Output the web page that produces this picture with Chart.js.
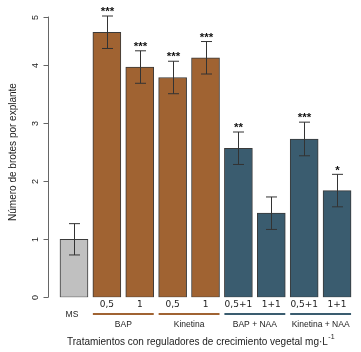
<!DOCTYPE html>
<html>
<head>
<meta charset="utf-8">
<script src="https://cdn.jsdelivr.net/npm/chart.js@4/dist/chart.umd.min.js"></script>
<style>
  html, body { margin: 0; padding: 0; background: #fff; }
  #wrap { width: 361px; height: 352px; position: relative; }
</style>
</head>
<body>
<div id="wrap"><canvas id="myChart" width="361" height="352"></canvas></div>
<script>
const treatments = ['MS', '0,5', '1', '0,5', '1', '0,5+1', '1+1', '0,5+1', '1+1'];
const groupOf = [null, 'BAP', 'BAP', 'Kinetina', 'Kinetina', 'BAP + NAA', 'BAP + NAA', 'Kinetina + NAA', 'Kinetina + NAA'];
const groups = ['BAP', 'Kinetina', 'BAP + NAA', 'Kinetina + NAA'];
const means = [1.0, 4.57, 3.97, 3.79, 4.13, 2.57, 1.45, 2.73, 1.84];
const errors = [0.27, 0.28, 0.28, 0.28, 0.28, 0.28, 0.28, 0.29, 0.28];
const stars = ['', '***', '***', '***', '***', '**', '', '***', '*'];
const yTickValues = [0, 1, 2, 3, 4, 4.84];
const yTickLabels = ['0', '1', '2', '3', '4', '5'];

const gray = '#c0c0c0';
const brown = '#a06332';
const teal = '#3a5c6f';

function colorFor(i) {
    if (groupOf[i] === null) return gray;
    return groupOf[i].includes('NAA') ? teal : brown;
}

const points = means.map((v, i) => ({ x: i + 1, y: v }));

const decor = {
    id: 'decor',
    afterDraw(chart) {
        const ctx = chart.ctx;
        const xs = chart.scales.x;
        const ys = chart.scales.y;
        const half = 14;
        ctx.save();

        // error bars
        ctx.strokeStyle = '#333';
        ctx.lineWidth = 1;
        means.forEach((m, i) => {
            const px = Math.round(xs.getPixelForValue(i + 1)) + 0.5;
            const top = ys.getPixelForValue(m + errors[i]);
            const bot = ys.getPixelForValue(m - errors[i]);
            ctx.beginPath();
            ctx.moveTo(px, top); ctx.lineTo(px, bot);
            ctx.moveTo(px - 5.5, top); ctx.lineTo(px + 5.5, top);
            ctx.moveTo(px - 5.5, bot); ctx.lineTo(px + 5.5, bot);
            ctx.stroke();
            if (stars[i]) {
                ctx.fillStyle = '#111';
                ctx.font = 'bold 11.5px "Liberation Sans", Arial, sans-serif';
                ctx.textAlign = 'center';
                ctx.textBaseline = 'middle';
                ctx.fillText(stars[i], px, top - 4);
            }
        });

        // y axis
        const ax = 48.5;
        ctx.strokeStyle = '#666';
        ctx.beginPath();
        ctx.moveTo(ax, ys.getPixelForValue(yTickValues[0]));
        ctx.lineTo(ax, ys.getPixelForValue(yTickValues[yTickValues.length - 1]));
        ctx.stroke();
        ctx.fillStyle = '#222';
        ctx.font = '9px "Liberation Sans", Arial, sans-serif';
        yTickValues.forEach((v, k) => {
            const py = Math.round(ys.getPixelForValue(v)) + 0.5;
            ctx.beginPath();
            ctx.moveTo(ax, py); ctx.lineTo(ax - 5, py);
            ctx.stroke();
            ctx.save();
            ctx.translate(36, py);
            ctx.rotate(-Math.PI / 2);
            ctx.textAlign = 'center';
            ctx.textBaseline = 'middle';
            ctx.fillText(yTickLabels[k], 0, 0);
            ctx.restore();
        });
        ctx.save();
        ctx.translate(13, 152);
        ctx.rotate(-Math.PI / 2);
        ctx.font = '10px "Liberation Sans", Arial, sans-serif';
        ctx.textAlign = 'center';
        ctx.textBaseline = 'middle';
        ctx.fillText('Número de brotes por explante', 0, 0);
        ctx.restore();

        // x labels
        ctx.textAlign = 'center';
        ctx.textBaseline = 'middle';
        treatments.forEach((t, i) => {
            const px = xs.getPixelForValue(i + 1);
            if (groupOf[i] === null) {
                ctx.font = '8.5px "Liberation Sans", Arial, sans-serif';
                ctx.fillText(t, px - 2, 315);
            } else {
                ctx.font = '9px "DejaVu Sans", sans-serif';
                ctx.fillText(t, px, 305);
            }
        });
        groups.forEach(g => {
            const idx = groupOf.map((v, i) => v === g ? i : -1).filter(i => i >= 0);
            const x0 = xs.getPixelForValue(idx[0] + 1) - half;
            const x1 = xs.getPixelForValue(idx[idx.length - 1] + 1) + half;
            ctx.strokeStyle = colorFor(idx[0]);
            ctx.lineWidth = 2;
            ctx.beginPath();
            ctx.moveTo(x0, 314); ctx.lineTo(x1, 314);
            ctx.stroke();
            ctx.fillStyle = '#222';
            ctx.font = '8.5px "Liberation Sans", Arial, sans-serif';
            ctx.fillText(g, (x0 + x1) / 2, 325);
        });

        // x title
        ctx.font = '10px "Liberation Sans", Arial, sans-serif';
        ctx.textAlign = 'left';
        ctx.textBaseline = 'alphabetic';
        const title = 'Tratamientos con reguladores de crecimiento vegetal mg·L';
        ctx.fillText(title, 67, 345);
        const w = ctx.measureText(title).width;
        ctx.font = '7px "Liberation Sans", Arial, sans-serif';
        ctx.fillText('-1', 67 + w + 0.5, 339);
        ctx.restore();
    }
};

new Chart(document.getElementById('myChart').getContext('2d'), {
    type: 'bar',
    data: {
        datasets: [{
            data: points,
            backgroundColor: means.map((_, i) => colorFor(i)),
            borderColor: '#3a3a3a',
            borderWidth: 1,
            borderSkipped: false,
            barThickness: 28
        }]
    },
    options: {
        responsive: false,
        animation: false,
        devicePixelRatio: 1,
        layout: { padding: { left: 48, right: 7.5, top: 0, bottom: 54.7 } },
        plugins: { legend: { display: false }, tooltip: { enabled: false } },
        scales: {
            x: { type: 'linear', min: 0.21, max: 9.5, offset: false, display: false },
            y: { min: 0, max: 5.126, display: false }
        }
    },
    plugins: [decor]
});
</script>
</body>
</html>
